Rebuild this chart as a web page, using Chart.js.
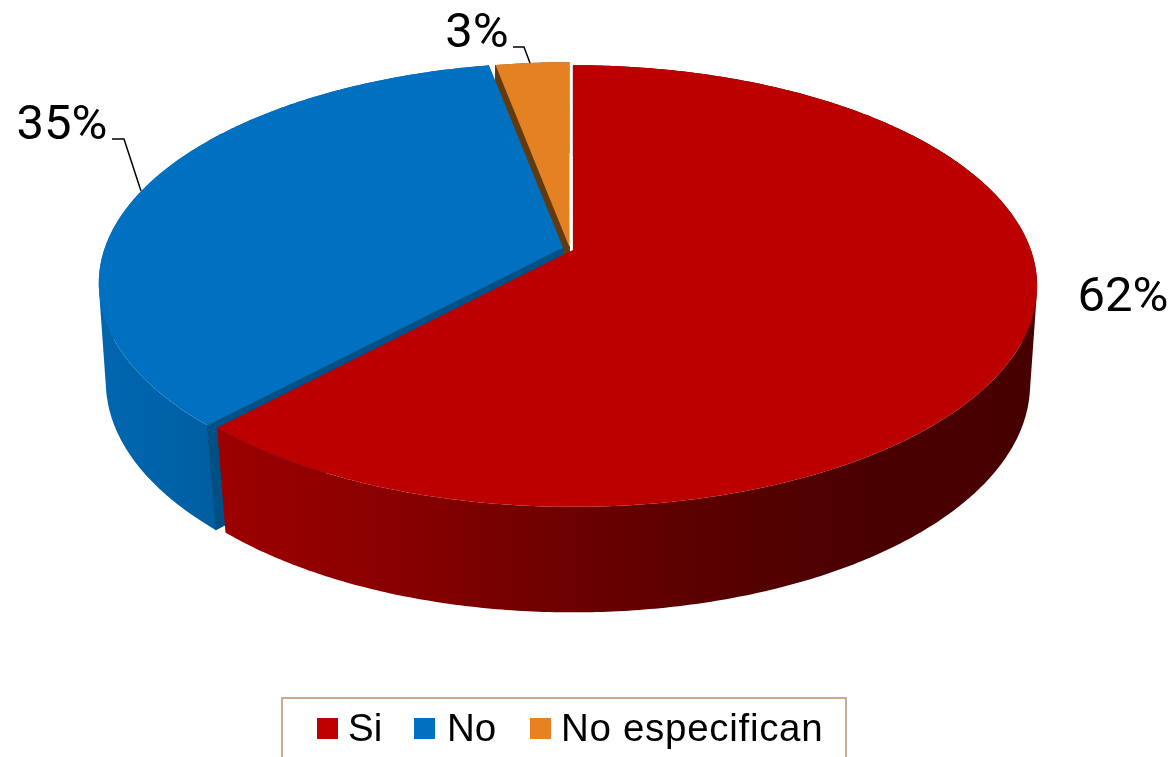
<!DOCTYPE html>
<html>
<head>
<meta charset="utf-8">
<style>
html,body{margin:0;padding:0;background:#fff;overflow:hidden}
#wrap{position:relative;width:1173px;height:757px}
canvas{display:block}
</style>
<script src="https://cdn.jsdelivr.net/npm/chart.js@4/dist/chart.umd.min.js"></script>
</head>
<body>
<div id="wrap"><canvas id="c" width="1173" height="757"></canvas></div>
<script>
const categories = ["Si", "No", "No especifican"];
const percentValues = [62, 35, 3];
const sliceColors = ["#BC0000", "#0070C0", "#E48122"];
const legendColors = ["#C00000", "#0070C0", "#E88120"];

// Perspective of the disc (styling of the 3D look, not data)
const TOP = {a:458, b:215, k:-0.163, cy:250};
const BOT = {a:452, b:223, k:-0.150, cy:350};
const SLICE_STYLE = [
  {ox:572.9, oy:0, stops:[[224,"#9C0000"],[400,"#880000"],[570,"#6C0000"],[740,"#560000"],[860,"#4A0000"],[1030,"#470000"]], inner:null},
  {ox:563, oy:-2.6, stops:[[100,"#0066AE"],[160,"#0063A9"],[216,"#005EA2"]], inner:"#004F85"},
  {ox:569.5, oy:-3, stops:[[490,"#8A4F14"],[570,"#8A4F14"]], inner:"#633A10"}
];
const LABEL_POS = [
  {x:1123, y:299},
  {x:62, y:127},
  {x:477, y:35}
];
const LEADERS = [null, [[112,139],[124,139],[141,191]], [[513,47],[524,47],[530,63]]];
const LEGEND_BOX = {l:282, r:846, t:698, b:770, color:"#C6AB95"};
const LEGEND_ITEMS = [{sw:317, tx:348, ls:"0px"},{sw:414, tx:447, ls:"0px"},{sw:530, tx:561, ls:"0.7px"}];

function proj(p, st, ang){
  const u = Math.cos(ang), v = Math.sin(ang), d = 1 + p.k * v;
  return [st.ox + p.a * u / d, p.cy + st.oy + p.b * v / d];
}
function arcPts(p, st, a0, a1){
  const n = Math.max(6, Math.ceil(Math.abs(a1 - a0) / 0.01)), out = [];
  for(let i = 0; i <= n; i++) out.push(proj(p, st, a0 + (a1 - a0) * i / n));
  return out;
}
function poly(ctx, pts){
  ctx.beginPath();
  pts.forEach((q, i) => i ? ctx.lineTo(q[0], q[1]) : ctx.moveTo(q[0], q[1]));
  ctx.closePath();
}
function addQuad(ctx, q){
  let area = 0;
  q.forEach((p, i) => { const r = q[(i + 1) % 4]; area += p[0] * r[1] - r[0] * p[1]; });
  const pts = area < 0 ? q.slice().reverse() : q;
  pts.forEach((p, i) => i ? ctx.lineTo(p[0], p[1]) : ctx.moveTo(p[0], p[1]));
  ctx.closePath();
}
const pie3d = {
  id:"pie3d",
  beforeDatasetDraw(){ return false; },
  afterDatasetsDraw(chart){
    const ctx = chart.ctx, arcs = chart.getDatasetMeta(0).data;
    ctx.save();
    // walls, back to front
    [2,1,0].forEach(i => {
      const s = SLICE_STYLE[i], ar = arcs[i];
      const t = arcPts(TOP, s, ar.startAngle, ar.endAngle);
      const b = arcPts(BOT, s, ar.startAngle, ar.endAngle);
      const x0 = s.stops[0][0], x1 = s.stops[s.stops.length-1][0];
      const g = ctx.createLinearGradient(x0, 0, x1, 0);
      s.stops.forEach(c => g.addColorStop((c[0]-x0)/(x1-x0), c[1]));
      ctx.fillStyle = g;
      ctx.beginPath();
      for(let j = 0; j < t.length - 1; j++) addQuad(ctx, [t[j], t[j+1], b[j+1], b[j]]);
      ctx.fill("nonzero");
      if(s.inner){
        // wall exposed along the slice's starting edge
        const apexT = [s.ox, TOP.cy + s.oy], apexB = [s.ox, TOP.cy + s.oy + 100];
        const eT = proj(TOP, s, ar.startAngle), eB = proj(BOT, s, ar.startAngle);
        ctx.fillStyle = s.inner;
        ctx.strokeStyle = s.inner;
        ctx.lineWidth = 1;
        poly(ctx, [apexT, eT, eB, apexB]);
        ctx.fill();
        ctx.stroke();
      }
    });
    // top faces
    [2,1,0].forEach(i => {
      const s = SLICE_STYLE[i], ar = arcs[i];
      const t = arcPts(TOP, s, ar.startAngle, ar.endAngle);
      ctx.fillStyle = sliceColors[i];
      poly(ctx, [[s.ox, TOP.cy + s.oy]].concat(t));
      ctx.fill();
    });
    // data labels
    ctx.fillStyle = "#000";
    ctx.font = "400 49px Roboto";
    ctx.textAlign = "center";
    ctx.textBaseline = "middle";
    percentValues.forEach((v, i) => ctx.fillText(v + "%", LABEL_POS[i].x, LABEL_POS[i].y));
    ctx.strokeStyle = "#000";
    ctx.lineWidth = 1.5;
    LEADERS.forEach(l => {
      if(!l) return;
      ctx.beginPath();
      l.forEach((q, i) => i ? ctx.lineTo(q[0], q[1]) : ctx.moveTo(q[0], q[1]));
      ctx.stroke();
    });
    // legend
    const B = LEGEND_BOX;
    ctx.strokeStyle = B.color;
    ctx.lineWidth = 2;
    ctx.strokeRect(B.l, B.t, B.r - B.l, B.b - B.t);
    ctx.font = "38.5px 'Liberation Sans'";
    ctx.textAlign = "left";
    ctx.textBaseline = "alphabetic";
    categories.forEach((c, i) => {
      ctx.fillStyle = legendColors[i];
      ctx.fillRect(LEGEND_ITEMS[i].sw, 718, 21, 21);
      ctx.fillStyle = "#000";
      ctx.letterSpacing = LEGEND_ITEMS[i].ls;
      ctx.fillText(c, LEGEND_ITEMS[i].tx, 741);
    });
    ctx.letterSpacing = "0px";
    ctx.restore();
  }
};
new Chart(document.getElementById("c"), {
  type:"pie",
  data:{labels:categories, datasets:[{data:percentValues, backgroundColor:sliceColors, borderWidth:0}]},
  options:{
    responsive:false, animation:false, devicePixelRatio:1,
    events:[],
    plugins:{legend:{display:false}, tooltip:{enabled:false}, title:{display:false}}
  },
  plugins:[pie3d]
});
</script>
</body>
</html>
